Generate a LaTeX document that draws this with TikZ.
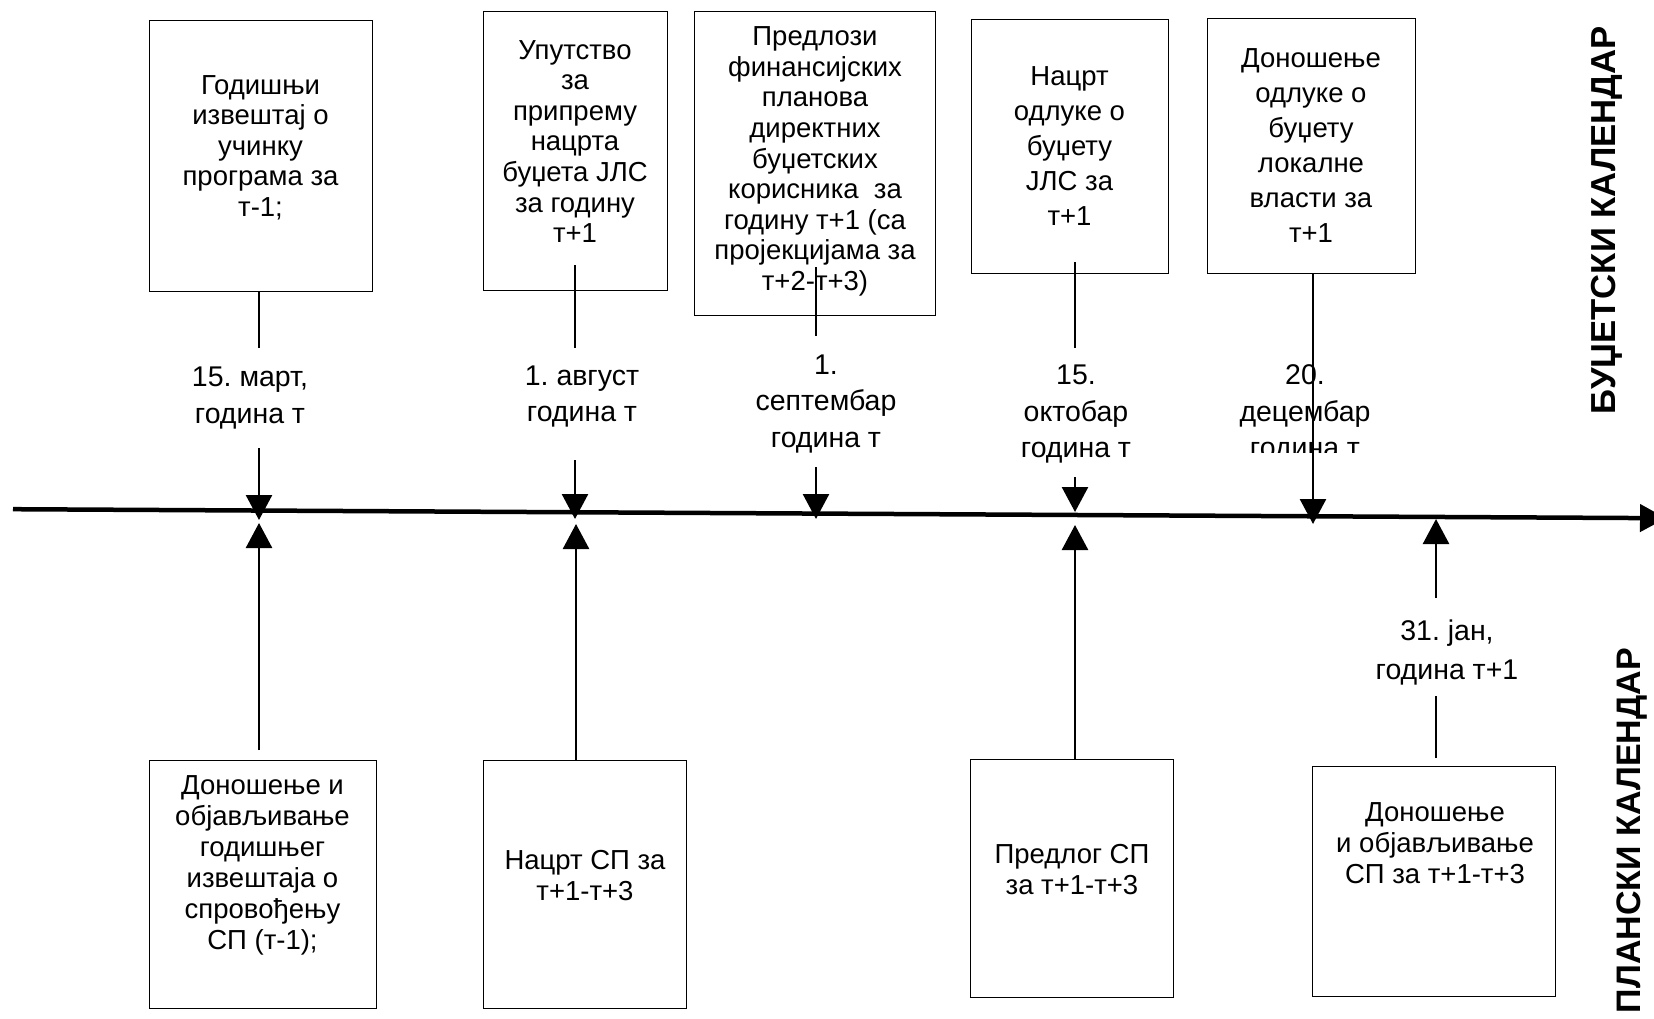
\documentclass[tikz,border=0pt]{standalone}
\usepackage{fontspec}
\setmainfont{Liberation Sans}
\usetikzlibrary{arrows.meta}
\frenchspacing
\begin{document}
\begin{tikzpicture}[x=1pt,y=-1pt,
  box/.style={draw=black, line width=1.3pt, inner sep=0pt, anchor=north west},
  btxt/.style={align=center, inner sep=0pt, font=\fontsize{27.5}{30.6}\selectfont},
  btxtw/.style={align=center, inner sep=0pt, font=\fontsize{27.5}{35}\selectfont},
  lbtxt/.style={align=center, inner sep=0pt, font=\fontsize{27.5}{31}\selectfont},
  ltxt/.style={align=center, inner sep=0pt, font=\fontsize{28.5}{36.5}\selectfont},
  side/.style={rotate=90, anchor=east, inner sep=0pt, font=\bfseries\fontsize{34.7}{35}\selectfont},
  conn/.style={line width=2.6pt},
  arr/.style={line width=2.6pt, -{Triangle[length=25pt,width=26pt]}},
  axisline/.style={line width=4.5pt, -{Triangle[length=26pt,width=27pt]}}
]
\useasboundingbox (0,0) rectangle (1654,1019);
\clip (0,0) rectangle (1654,1019);
\fill[white] (0,0) rectangle (1654,1019);

% top boxes
\node[box, minimum width=223pt, minimum height=271pt] (b1) at (149,20) {};
\node[box, minimum width=184pt, minimum height=279pt] (b2) at (483,11) {};
\node[box, minimum width=241pt, minimum height=304pt] (b3) at (694,11) {};
\node[box, minimum width=197pt, minimum height=254pt] (b4) at (971,19) {};
\node[box, minimum width=208pt, minimum height=255pt] (b5) at (1207,18) {};

% bottom boxes
\node[box, minimum width=227pt, minimum height=248pt] (lb1) at (149,760) {};
\node[box, minimum width=203pt, minimum height=248pt] (lb2) at (483,760) {};
\node[box, minimum width=203pt, minimum height=238pt] (lb3) at (970,759) {};
\node[box, minimum width=243pt, minimum height=230pt] (lb4) at (1312,766) {};

% box texts
\node[btxt] (t1) at (260.5,147.5) {Годишњи\\извештај о\\учинку\\програма за\\т-1;};
\node[btxt] (t2) at (575,141.5) {Упутство\\за\\припрему\\нацрта\\буџета ЈЛС\\за годину\\т+1};
\node[btxt] (t3) at (815,161.5) {Предлози\\финансијских\\планова\\директних\\буџетских\\корисника\ \ за\\годину т+1 (са\\пројекцијама за\\т+2-т+3)};
\node[btxtw] (t4) at (1069.5,146) {Нацрт\\одлуке о\\буџету\\ЈЛС за\\т+1};
\node[btxtw] (t5) at (1311,145.5) {Доношење\\одлуке о\\буџету\\локалне\\власти за\\т+1};

\node[lbtxt] (lt1) at (262.5,865) {Доношење и\\објављивање\\годишњег\\извештаја о\\спровођењу\\СП (т-1);};
\node[lbtxt] (lt2) at (585,876) {Нацрт СП за\\т+1-т+3};
\node[lbtxt] (lt3) at (1072,870) {Предлог СП\\за т+1-т+3};
\node[lbtxt] (lt4) at (1435,843) {Доношење\\и објављивање\\СП за т+1-т+3};

% date labels
\node[ltxt] (l1) at (250,398) {15. март,\\година т};
\node[ltxt] (l2) at (582,396.5) {1. август\\година т};
\node[ltxt] (l3) at (826,404) {1.\\септембар\\година т};
\node[ltxt] (l4) at (1076,414.5) {15.\\октобар\\година т};
\begin{scope}
\clip (1180,350) rectangle (1440,452);
\node[ltxt] (l5) at (1305,414) {20.\\децембар\\година т};
\end{scope}
\node[ltxt, font=\fontsize{28.5}{39}\selectfont] (l6) at (1447,652.5) {31. јан,\\година т+1};

% side titles
\node[side] (s1) at (1607,26) {БУЏЕТСКИ КАЛЕНДАР};
\node[side, font=\bfseries\fontsize{34}{35}\selectfont] (s2) at (1632,648) {ПЛАНСКИ КАЛЕНДАР};

% axis
\coordinate (ax0) at (13,509.2);
\coordinate (ax1) at (1666,518.2);
\draw[axisline] (ax0) -- (ax1);

% coordinates of connectors
\coordinate (p1a) at (259,348); \coordinate (p1b) at (259,448); \coordinate (p1t) at (259,520);
\coordinate (p2s) at (575,265); \coordinate (p2a) at (575,348); \coordinate (p2b) at (575,460); \coordinate (p2t) at (575,519);
\coordinate (p3s) at (816,267); \coordinate (p3a) at (816,336); \coordinate (p3b) at (816,467); \coordinate (p3t) at (816,519);
\coordinate (p4s) at (1075,262); \coordinate (p4a) at (1075,348); \coordinate (p4b) at (1075,477); \coordinate (p4t) at (1075,512);
\coordinate (p5t) at (1313,524);
\coordinate (q1s) at (259,750); \coordinate (q1t) at (259,523);
\coordinate (q2t) at (576,524);
\coordinate (q3t) at (1075,525);
\coordinate (q6s) at (1436,758); \coordinate (q6a) at (1436,696); \coordinate (q6b) at (1436,598); \coordinate (q6t) at (1436,519);

% top connectors
\draw[conn] (b1.south -| p1a) -- (p1a);
\draw[arr] (p1b) -- (p1t);
\draw[conn] (p2s) -- (p2a);
\draw[arr] (p2b) -- (p2t);
\draw[conn] (p3s) -- (p3a);
\draw[arr] (p3b) -- (p3t);
\draw[conn] (p4s) -- (p4a);
\draw[arr] (p4b) -- (p4t);
\draw[arr] (b5.south -| p5t) -- (p5t);

% bottom connectors
\draw[arr] (q1s) -- (q1t);
\draw[arr] (lb2.north -| q2t) -- (q2t);
\draw[arr] (lb3.north -| q3t) -- (q3t);
\draw[conn] (q6s) -- (q6a);
\draw[arr] (q6b) -- (q6t);
\end{tikzpicture}
\end{document}
